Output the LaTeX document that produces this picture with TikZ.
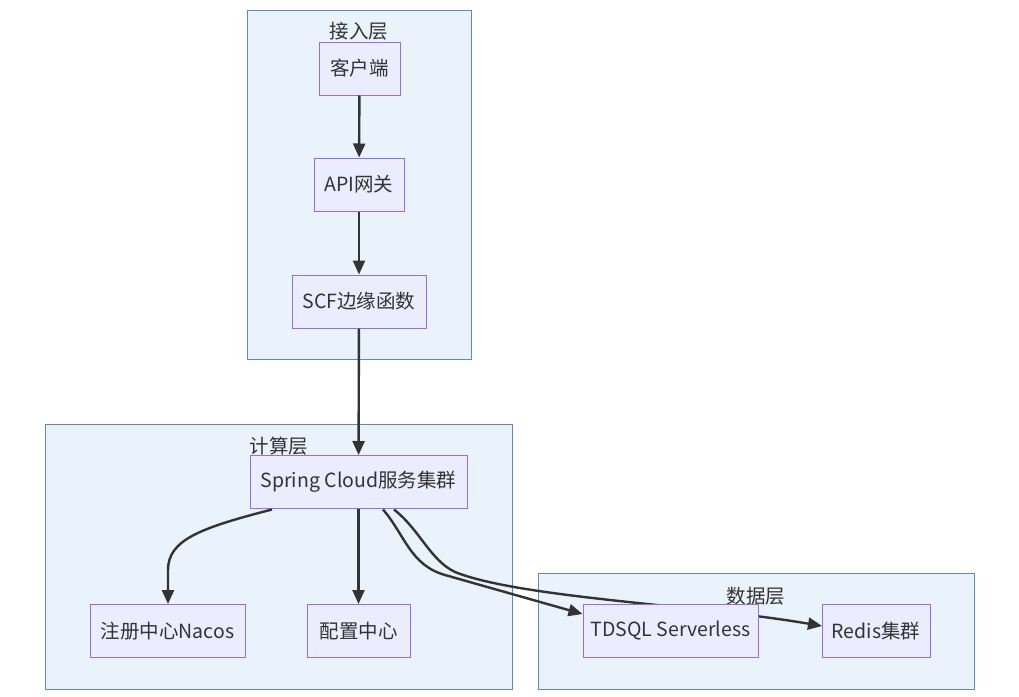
\documentclass[tikz,border=0pt]{standalone}
\usepackage{fontspec}
\setmainfont{Noto Sans CJK SC}
\usetikzlibrary{arrows.meta}
\definecolor{clfill}{HTML}{EAF2FC}
\definecolor{cldraw}{HTML}{5B8BC0}
\definecolor{ndfill}{HTML}{ECECFF}
\definecolor{nddraw}{HTML}{9370DB}
\definecolor{edge}{HTML}{333333}
\begin{document}
\begin{tikzpicture}[x=1pt,y=-1pt,
  cluster/.style={draw=cldraw,fill=clfill,line width=1pt},
  box/.style={draw=nddraw,fill=ndfill,line width=1pt,minimum height=53pt,inner sep=0pt,font=\fontsize{19.5}{22}\selectfont,text=edge},
  lbl/.style={font=\fontsize{19.5}{22}\selectfont,text=edge,inner sep=0pt},
  conn/.style={draw=edge,line width=2.4pt,-{Triangle[length=14pt,width=12pt]}}]
\useasboundingbox (0,0) rectangle (1019,696);
% clusters
\draw[cluster] (247,10) rectangle (471,359);
\draw[cluster] (45,424) rectangle (512,689);
\draw[cluster] (538,573) rectangle (974,689);
\node[lbl] (l1) at (359,31) {接入层};
\node[lbl] (l2) at (279,446) {计算层};
\node[lbl] (l3) at (756,596) {数据层};
% coordinates for curved edges
\coordinate (sa) at (272,509.5);
\coordinate (sb) at (383,509.5);
\coordinate (sc) at (394,509.5);
\coordinate (re) at (822,626);
% redis edge first (passes behind TDSQL node)
\path[conn] (sc) .. controls (420,530) and (430,560) .. (455,572)
  .. controls (520,598) and (700,605) .. (re);
% nodes
\node[box,minimum width=81pt] (client) at (359.5,68.5) {客户端};
\node[box,minimum width=90pt] (api) at (359,184.5) {API网关};
\node[box,minimum width=134pt] (scf) at (359,301.5) {SCF边缘函数};
\node[box,minimum width=217pt] (spring) at (358.5,482) {Spring Cloud服务集群};
\node[box,minimum width=155pt] (nacos) at (167.5,631) {注册中心Nacos};
\node[box,minimum width=103pt] (conf) at (358.5,631) {配置中心};
\node[box,minimum width=175pt] (tdsql) at (670.5,631) {TDSQL Serverless};
\node[box,minimum width=108pt] (redis) at (876,631) {Redis集群};
\draw[conn] (client) -- (api);
\draw[conn] (api) -- (scf);
\draw[conn] (scf) -- (spring);
\draw[conn] (spring) -- (conf);
\path[conn] (sa) .. controls (200,528) and (168,540) .. (168,570) -- (nacos.north -| 168,0);
\path[conn] (sb) .. controls (405,535) and (410,565) .. (445,575) -- (tdsql.west |- 0,614);
\end{tikzpicture}
\end{document}
